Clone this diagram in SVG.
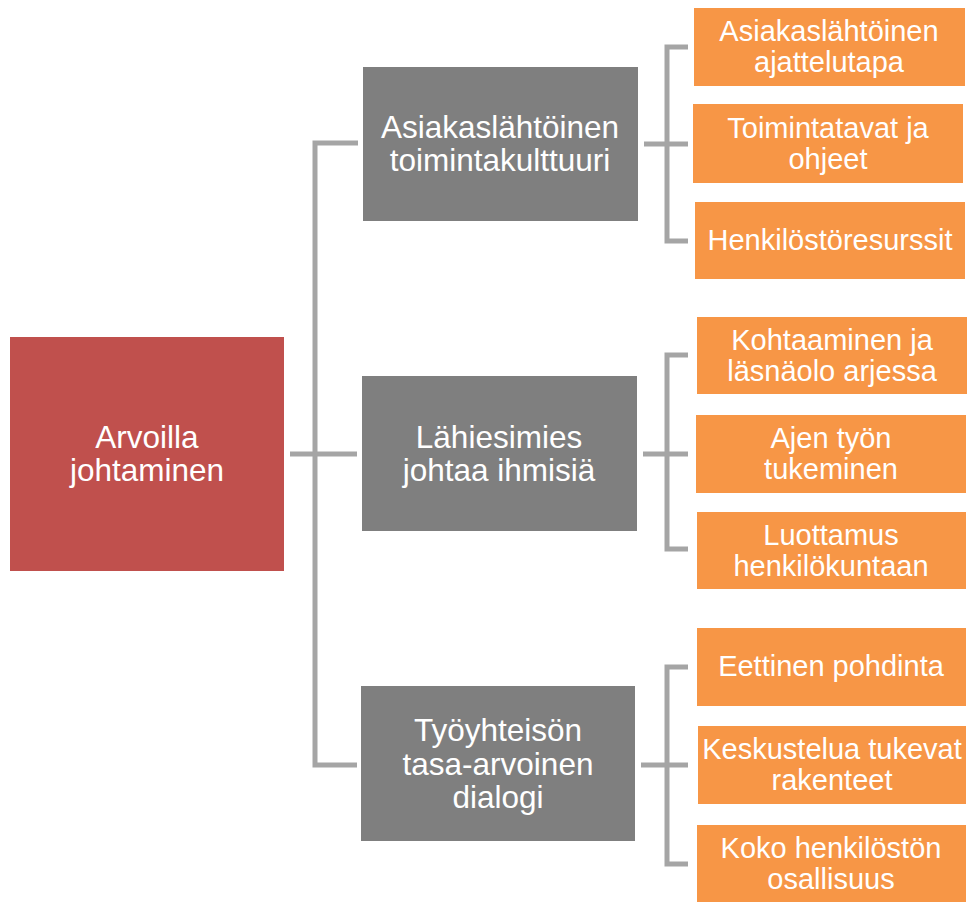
<svg xmlns="http://www.w3.org/2000/svg" width="967" height="902" viewBox="0 0 967 902">
<style>
.root{fill:#C0504D}
.mid{fill:#7F7F7F}
.leaf{fill:#F79646}
text{font-family:"Liberation Sans",Arial,sans-serif;fill:#fff;text-anchor:middle}
.tb{font-size:31.5px}
.ts{font-size:29px}
.c{fill:none;stroke:#A5A5A5;stroke-width:5;stroke-linejoin:miter}
</style>
<rect width="967" height="902" fill="#fff"/>
<g id="connectors">
<path class="c" d="M290 454H357M358 143H315V765H357"/>
<path class="c" d="M644 144H688M688 47H667V241H688"/>
<path class="c" d="M643 454H688M688 355H667V549H688"/>
<path class="c" d="M641 765H688M688 667H667V864H688"/>
</g>
<g id="root"><rect class="root" x="10" y="337" width="274" height="234"/>
<text class="tb" x="147" y="448">Arvoilla</text><text class="tb" x="147" y="481">johtaminen</text></g>
<g id="m1"><rect class="mid" x="363" y="67" width="275" height="154"/>
<text class="tb" x="500" y="138">Asiakaslähtöinen</text><text class="tb" x="500" y="171">toimintakulttuuri</text></g>
<g id="m2"><rect class="mid" x="362" y="376" width="275" height="155"/>
<text class="tb" x="499" y="448">Lähiesimies</text><text class="tb" x="499" y="481">johtaa ihmisiä</text></g>
<g id="m3"><rect class="mid" x="361" y="686" width="274" height="155"/>
<text class="tb" x="498" y="741">Työyhteisön</text><text class="tb" x="498" y="775">tasa-arvoinen</text><text class="tb" x="498" y="808">dialogi</text></g>
<g id="l1"><rect class="leaf" x="694" y="8" width="271" height="78"/>
<text class="ts" x="829" y="41">Asiakaslähtöinen</text><text class="ts" x="829" y="72">ajattelutapa</text></g>
<g id="l2"><rect class="leaf" x="693" y="104" width="270" height="79"/>
<text class="ts" x="828" y="138">Toimintatavat ja</text><text class="ts" x="828" y="169">ohjeet</text></g>
<g id="l3"><rect class="leaf" x="695" y="202" width="270" height="77"/>
<text class="ts" x="830" y="250">Henkilöstöresurssit</text></g>
<g id="l4"><rect class="leaf" x="697" y="317" width="270" height="77"/>
<text class="ts" x="832" y="350">Kohtaaminen ja</text><text class="ts" x="832" y="381">läsnäolo arjessa</text></g>
<g id="l5"><rect class="leaf" x="696" y="415" width="270" height="78"/>
<text class="ts" x="831" y="448">Ajen työn</text><text class="ts" x="831" y="479">tukeminen</text></g>
<g id="l6"><rect class="leaf" x="697" y="512" width="269" height="77"/>
<text class="ts" x="831" y="545">Luottamus</text><text class="ts" x="831" y="576">henkilökuntaan</text></g>
<g id="l7"><rect class="leaf" x="697" y="628" width="269" height="78"/>
<text class="ts" x="831" y="676">Eettinen pohdinta</text></g>
<g id="l8"><rect class="leaf" x="698" y="726" width="268" height="78"/>
<text class="ts" x="832" y="759">Keskustelua tukevat</text><text class="ts" x="832" y="790">rakenteet</text></g>
<g id="l9"><rect class="leaf" x="697" y="825" width="269" height="77"/>
<text class="ts" x="831" y="858">Koko henkilöstön</text><text class="ts" x="831" y="889">osallisuus</text></g>
</svg>
